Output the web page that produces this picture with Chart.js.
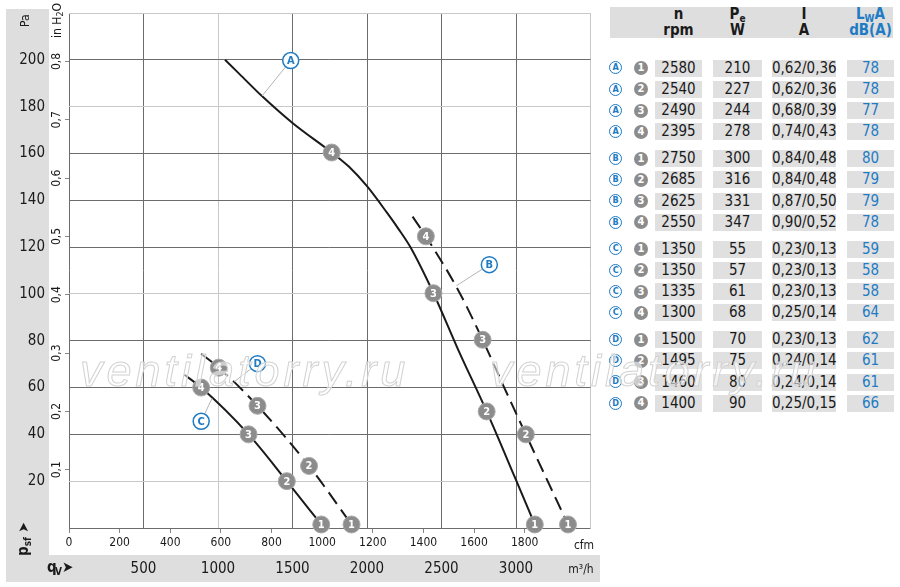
<!DOCTYPE html>
<html>
<head>
<meta charset="utf-8">
<script src="https://cdn.jsdelivr.net/npm/chart.js@4.4.1/dist/chart.umd.min.js"></script>
<style>
  body { margin: 0; background: #fff; width: 900px; height: 587px; overflow: hidden; position: relative;
         font-family: 'Liberation Sans Narrow', 'DejaVu Sans Condensed', Arial, sans-serif; color: #1a1a1a; }
  #wrap { position: absolute; left: 0; top: 0; width: 600px; height: 587px; }
  .abs { position: absolute; }
  .box { position: absolute; background: #e0e0e0; height: 17px; line-height: 17px; text-align: center; font-size: 15px; }
  .hdr { position: absolute; text-align: center; font-size: 15px; font-weight: bold; line-height: 16px; }
  .let { position: absolute; width: 11px; height: 11px; border: 1.3px solid #1e7bc4; border-radius: 50%; background: #fff;
         color: #1e7bc4; font: bold 9px 'DejaVu Sans Condensed', sans-serif; text-align: center; line-height: 11px; }
  .num { position: absolute; width: 14px; height: 14px; border-radius: 50%; background: #8c8c8c;
         color: #fff; font: bold 10px 'DejaVu Sans', sans-serif; text-align: center; line-height: 14px; }
  .wm { position: absolute; font: italic 45px 'Liberation Sans', Arial, sans-serif; letter-spacing: 4px;
        color: rgba(255,255,255,0.55); -webkit-text-stroke: 1px #d2d2d2; pointer-events: none; white-space: nowrap; }
</style>
</head>
<body>
<div id="wrap"><canvas id="chart" width="600" height="587"></canvas></div>
<div id="table"></div>
<div class="wm" style="left:80px; top:345px;">ventilatorry.ru</div>
<div class="wm" style="left:490px; top:345px;">ventilatorry.ru</div>
<script>
  // axis ticks
  const flowTicks = [0, 500, 1000, 1500, 2000, 2500, 3000, 3500]; // m³/h
  const cfmTicks = [0, 200, 400, 600, 800, 1000, 1200, 1400, 1600, 1800];
  const paTicks = [0, 20, 40, 60, 80, 100, 120, 140, 160, 180, 200, 220];
  const inchTicks = [0.1, 0.2, 0.3, 0.4, 0.5, 0.6, 0.7, 0.8];
  const M3H_PER_CFM = 1.699;
  const PA_PER_INCH = 249.09;

  // curves (m³/h, Pa)
  const curveAFlow = [1047, 1143, 1295, 1500, 1763, 1878, 2000, 2134, 2212, 2291, 2446, 2613, 2803, 2992, 3126];
  const curveAPa = [200, 194, 184.5, 173, 160.4, 154.4, 146, 134.7, 127.7, 120, 100.3, 76, 49.8, 21.7, 1.5];
  const curveBFlow = [2306, 2395, 2613, 2776, 2921, 3066, 3349];
  const curveBPa = [133, 124.6, 101.5, 80.4, 60, 40, 1.5];
  const curveCFlow = [775, 887, 1205, 1462, 1693];
  const curveCPa = [65.5, 60, 40, 20, 1.5];
  const curveDFlow = [887, 1005, 1265, 1611, 1896];
  const curveDPa = [74.4, 68.5, 52.2, 26.5, 1.5];

  // operating points 4,3,2,1 on each curve
  const pointNames = ['4', '3', '2', '1'];
  const pointsAFlow = [1763, 2446, 2803, 3126];
  const pointsAPa = [160.4, 100.3, 49.8, 1.5];
  const pointsBFlow = [2395, 2776, 3066, 3349];
  const pointsBPa = [124.6, 80.4, 40, 1.5];
  const pointsCFlow = [887, 1205, 1462, 1693];
  const pointsCPa = [60, 40, 20, 1.5];
  const pointsDFlow = [1005, 1265, 1611, 1896];
  const pointsDPa = [68.5, 52.2, 26.5, 1.5];

  // curve name tags and where their leader line meets the curve
  const tagNames = ['A', 'B', 'C', 'D'];
  const tagFlow = [1488, 2821, 887, 1265];
  const tagPa = [199.7, 112.5, 45.6, 70.2];
  const leaderFlow = [1295, 2600, 960, 1110];
  const leaderPa = [184.5, 103.5, 55.4, 62.5];

  // table
  const rowCurve = ['A', 'A', 'A', 'A', 'B', 'B', 'B', 'B', 'C', 'C', 'C', 'C', 'D', 'D', 'D', 'D'];
  const rowPoint = [1, 2, 3, 4, 1, 2, 3, 4, 1, 2, 3, 4, 1, 2, 3, 4];
  const rowSpeed = [2580, 2540, 2490, 2395, 2750, 2685, 2625, 2550, 1350, 1350, 1335, 1300, 1500, 1495, 1460, 1400];
  const rowPower = [210, 227, 244, 278, 300, 316, 331, 347, 55, 57, 61, 68, 70, 75, 80, 90];
  const rowCurrent = ['0,62/0,36', '0,62/0,36', '0,68/0,39', '0,74/0,43', '0,84/0,48', '0,84/0,48', '0,87/0,50', '0,90/0,52',
                      '0,23/0,13', '0,23/0,13', '0,23/0,13', '0,25/0,14', '0,23/0,13', '0,24/0,14', '0,24/0,14', '0,25/0,15'];
  const rowNoise = [78, 78, 77, 78, 80, 79, 79, 78, 59, 58, 58, 64, 62, 61, 61, 66];

  const FONT = "'Liberation Sans Narrow', 'DejaVu Sans Condensed', Arial, sans-serif";
  const BLUE = '#1e7bc4';
  const DARK_GRID = '#6c6c6c';
  const LIGHT_GRID = '#c8c8c8';

  const xy = (xs, ys) => xs.map((x, i) => ({ x: x, y: ys[i] }));

  function curve(xs, ys, dashed) {
    return {
      type: 'line', data: xy(xs, ys), borderColor: '#1a1a1a', borderWidth: 2,
      borderDash: dashed ? [14, 7] : [], pointRadius: 0, showLine: true,
      cubicInterpolationMode: 'monotone', order: 3
    };
  }
  function marks(xs, ys) {
    return {
      data: xy(xs, ys), pointRadius: 8.5, backgroundColor: '#8c8c8c', borderColor: '#a9a9a9', borderWidth: 1,
      showLine: false, tags: pointNames, tagColor: '#fff', tagFont: 'bold 11px ' + FONT, clip: false, order: 1
    };
  }

  const datasets = [
    curve(curveAFlow, curveAPa, false),
    curve(curveBFlow, curveBPa, true),
    curve(curveCFlow, curveCPa, false),
    curve(curveDFlow, curveDPa, true)
  ];
  tagNames.forEach((t, i) => {
    datasets.push({
      type: 'line', data: [{ x: tagFlow[i], y: tagPa[i] }, { x: leaderFlow[i], y: leaderPa[i] }],
      borderColor: '#b4b4b4', borderWidth: 1, pointRadius: 0, showLine: true, order: 2
    });
  });
  datasets.push(marks(pointsAFlow, pointsAPa), marks(pointsBFlow, pointsBPa),
                marks(pointsCFlow, pointsCPa), marks(pointsDFlow, pointsDPa));
  datasets.push({
    data: xy(tagFlow, tagPa), pointRadius: 8, backgroundColor: '#fff', borderColor: BLUE, borderWidth: 1.5,
    showLine: false, tags: tagNames, tagColor: BLUE, tagFont: 'bold 11px ' + FONT, order: 0
  });

  const pointText = {
    id: 'pointText',
    afterDatasetsDraw(chart) {
      const c = chart.ctx;
      chart.data.datasets.forEach((ds, i) => {
        if (!ds.tags) return;
        chart.getDatasetMeta(i).data.forEach((pt, j) => {
          c.save();
          c.fillStyle = ds.tagColor;
          c.font = ds.tagFont;
          c.textAlign = 'center';
          c.textBaseline = 'middle';
          c.fillText(ds.tags[j], pt.x, pt.y + 0.5);
          c.restore();
        });
      });
    }
  };

  function vText(c, parts, x, y) {
    // draws text rotated -90deg, starting at (x, y) and going upward
    c.save();
    c.translate(x, y);
    c.rotate(-Math.PI / 2);
    let u = 0;
    parts.forEach(p => {
      c.font = p.font;
      c.fillText(p.t, u, p.dy || 0);
      u += c.measureText(p.t).width;
    });
    c.restore();
  }

  const frame = {
    id: 'frame',
    beforeDraw(chart) {
      const { ctx, scales } = chart;
      const pa = scales.y, q = scales.x;
      ctx.save();
      ctx.fillStyle = '#dedede';
      ctx.fillRect(pa.left, 9, pa.right - pa.left, q.top - 9);
      ctx.fillRect(pa.left, q.top, chart.width - pa.left, q.bottom - q.top);
      ctx.restore();
    },
    afterDraw(chart) {
      const { ctx, scales } = chart;
      const pa = scales.y, inch = scales.yin, q = scales.x, cfm = scales.cfm;
      ctx.save();
      ctx.fillStyle = '#1a1a1a';
      ctx.textBaseline = 'middle';
      ctx.textAlign = 'left';
      vText(ctx, [{ t: 'Pa', font: '12px ' + FONT }], (pa.left + pa.right) / 2 - 2, 27);
      vText(ctx, [{ t: 'in H', font: '12px ' + FONT }, { t: '2', font: '9px ' + FONT, dy: 3 }, { t: 'O', font: '12px ' + FONT }],
            (inch.left + inch.right) / 2 - 1, 38);
      vText(ctx, [{ t: 'p', font: 'bold 15px ' + FONT }, { t: 'sf', font: 'bold 10px ' + FONT, dy: 4 },
                  { t: ' ➤', font: 'bold 14px ' + FONT }], (pa.left + pa.right) / 2 - 3, 556);
      ctx.font = 'bold 15px ' + FONT;
      ctx.fillText('q', 47, (q.top + q.bottom) / 2);
      ctx.font = 'bold 10px ' + FONT;
      ctx.fillText('V', 55, (q.top + q.bottom) / 2 + 4);
      ctx.font = 'bold 15px ' + FONT;
      ctx.fillText('➤', 62, (q.top + q.bottom) / 2);
      ctx.textAlign = 'center';
      ctx.font = '12px ' + FONT;
      ctx.fillText('cfm', 584, (cfm.top + cfm.bottom) / 2 + 4);
      ctx.fillText('m³/h', 581, (q.top + q.bottom) / 2 + 1);
      ctx.restore();
    }
  };

  const lightPa = [20, 100, 180, 220];
  const lightFlow = [1000, 3500];

  new Chart(document.getElementById('chart'), {
    type: 'scatter',
    data: { datasets },
    plugins: [frame, pointText],
    options: {
      responsive: false,
      animation: false,
      events: [],
      layout: { padding: { left: 6, top: 6, right: 6, bottom: 5 } },
      plugins: { legend: { display: false }, tooltip: { enabled: false } },
      scales: {
        x: {
          type: 'linear', position: 'bottom', weight: 1, min: 0, max: 3500,
          afterBuildTicks: s => { s.ticks = flowTicks.map(v => ({ value: v })); },
          afterFit: s => { s.height = 27; },
          ticks: {
            callback: v => (v === 0 || v === 3500) ? '' : String(v), maxRotation: 0, autoSkip: false,
            font: { family: FONT, size: 15 }, color: '#1a1a1a', padding: 5
          },
          grid: { color: c => lightFlow.includes(c.tick.value) ? LIGHT_GRID : DARK_GRID, drawTicks: false },
          border: { display: false }
        },
        cfm: {
          type: 'linear', position: 'bottom', weight: 0, min: 0, max: 3500 / M3H_PER_CFM,
          afterBuildTicks: s => { s.ticks = cfmTicks.map(v => ({ value: v })); },
          afterFit: s => { s.height = 27; },
          ticks: {
            callback: v => String(v), maxRotation: 0, autoSkip: false,
            font: { family: FONT, size: 12 }, color: '#1a1a1a', padding: 3
          },
          grid: { drawOnChartArea: false, tickLength: 5, color: '#888' },
          border: { display: false }
        },
        y: {
          type: 'linear', position: 'left', weight: 1, min: 0, max: 220,
          afterBuildTicks: s => { s.ticks = paTicks.map(v => ({ value: v })); },
          afterFit: s => { s.width = 43; },
          ticks: {
            callback: v => (v === 0 || v === 220) ? '' : String(v), autoSkip: false,
            font: { family: FONT, size: 15 }, color: '#1a1a1a', padding: 4
          },
          grid: { color: c => lightPa.includes(c.tick.value) ? LIGHT_GRID : DARK_GRID, drawTicks: false },
          border: { display: false }
        },
        yin: {
          type: 'linear', position: 'left', weight: 0, min: 0, max: 220 / PA_PER_INCH,
          afterBuildTicks: s => { s.ticks = inchTicks.map(v => ({ value: v })); },
          afterFit: s => { s.width = 20; },
          ticks: {
            callback: v => v.toFixed(1).replace('.', ','), autoSkip: false, minRotation: 90, maxRotation: 90,
            crossAlign: 'center', font: { family: FONT, size: 12 }, color: '#1a1a1a', padding: 0
          },
          grid: { drawOnChartArea: false, tickLength: 4, color: '#888' },
          border: { display: false }
        }
      }
    }
  });

  // table on the right
  const table = document.getElementById('table');
  function el(cls, style, html) {
    const d = document.createElement('div');
    d.className = cls;
    Object.assign(d.style, style);
    d.innerHTML = html;
    table.appendChild(d);
    return d;
  }
  el('abs', { left: '610px', top: '7px', width: '283px', height: '31px', background: '#dedede' }, '');
  const cols = [[655, 702], [713, 762], [772, 836], [847, 894]];
  const heads = [['n', 'rpm'], ['P<sub style="font-size:10px;vertical-align:-3px">e</sub>', 'W'], ['I', 'A'],
                 ['L<sub style="font-size:10px;vertical-align:-3px">W</sub>A', 'dB(A)']];
  heads.forEach((h, k) => {
    const st = { left: cols[k][0] + 'px', width: (cols[k][1] - cols[k][0]) + 'px', color: k === 3 ? BLUE : '#1a1a1a' };
    el('hdr', Object.assign({ top: '6px' }, st), h[0]);
    el('hdr', Object.assign({ top: '22px' }, st), h[1]);
  });
  rowSpeed.forEach((_, i) => {
    const g = Math.floor(i / 4), k = i % 4;
    const cy = 68 + g * 90.5 + k * 21.3;
    el('let', { left: (616 - 6.8) + 'px', top: (cy - 6.8) + 'px' }, rowCurve[i]);
    el('num', { left: (641 - 7) + 'px', top: (cy - 7) + 'px' }, rowPoint[i]);
    const vals = [rowSpeed[i], rowPower[i], rowCurrent[i], rowNoise[i]];
    vals.forEach((v, c) => {
      el('box', {
        left: cols[c][0] + 'px', width: (cols[c][1] - cols[c][0]) + 'px', top: (cy - 8.5) + 'px',
        color: c === 3 ? BLUE : '#1a1a1a'
      }, v);
    });
  });
</script>
</body>
</html>
